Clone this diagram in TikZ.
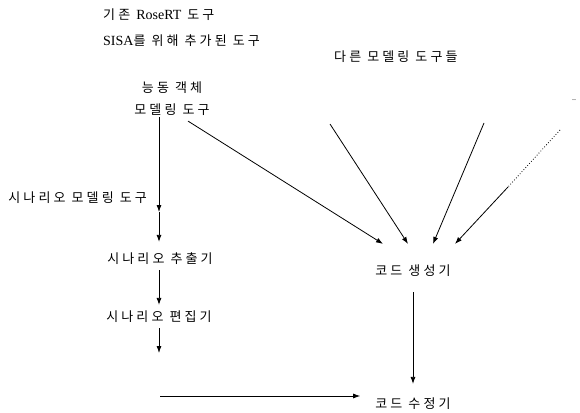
\documentclass[tikz,border=0pt]{standalone}
\usepackage{fontspec}
\setmainfont{Liberation Serif}
\newfontfamily\kr{Noto Sans CJK KR}[LetterSpace=24]
\usetikzlibrary{arrows.meta}
\newcommand{\lat}[1]{{\fontsize{14}{16}\selectfont\rmfamily #1}}
\begin{document}
\begin{tikzpicture}[x=1pt,y=-1pt,
  lbl/.style={inner sep=1pt,font=\fontsize{13}{22}\selectfont\kr},
  arr/.style={line width=0.8pt,-{Latex[length=7pt,width=5pt]}},
  ln/.style={line width=0.8pt}]
\useasboundingbox (0,0) rectangle (580,412);
% legend and labels
\node[lbl,anchor=west] (rose) at (102,15) {기존 \lat{RoseRT} 도구};
\node[lbl,anchor=west] (sisa) at (102,41) {\lat{SISA}를 위해 추가된 도구};
\node[lbl,anchor=west] (other) at (333,57) {다른 모델링 도구들};
\node[inner sep=0pt,font=\fontsize{8}{8}\selectfont] (more) at (574,100) {..};
\node[lbl,align=center] (active) at (172,99) {능동 객체\\모델링 도구};
\node[lbl,anchor=east] (scmod) at (148,198) {시나리오 모델링 도구};
\node[lbl] (scext) at (160,259) {시나리오 추출기};
\node[lbl] (scedit) at (159,317) {시나리오 편집기};
\node[lbl] (gen) at (413,271) {코드 생성기};
\node[lbl] (fix) at (413,404) {코드 수정기};
\coordinate (j1) at (159,212);\coordinate (j2) at (159,353);\coordinate (j3) at (160,396);
\coordinate (o1) at (330,124);\coordinate (o2) at (484,123);\coordinate (o3) at (560,130);\coordinate (o3m) at (508,187);
% scenario chain
\draw[arr] (active.south -| j1) -- (j1);
\draw[arr,shorten >=10pt] (j1) -- (scext.north -| j1);
\draw[arr,shorten <=4pt,shorten >=5pt] (scext.south -| j1) -- (scedit.north -| j1);
\draw[arr,shorten <=4pt] (scedit.south -| j2) -- (j2);
\draw[arr,shorten >=14pt] (j3) -- (fix.west |- j3);
% code generation
\draw[arr] ([xshift=16pt,yshift=-4pt]active.south) -- ([xshift=-30pt,yshift=20pt]gen.north);
\draw[arr] (o1) -- ([xshift=-5pt,yshift=20pt]gen.north);
\draw[arr] (o2) -- ([xshift=20pt,yshift=20pt]gen.north);
\draw[ln,dotted] (o3) -- (o3m);
\draw[arr] (o3m) -- ([xshift=42pt,yshift=20pt]gen.north);
\draw[arr,shorten <=14pt,shorten >=13pt] (gen.south) -- (fix.north);
\end{tikzpicture}
\end{document}
